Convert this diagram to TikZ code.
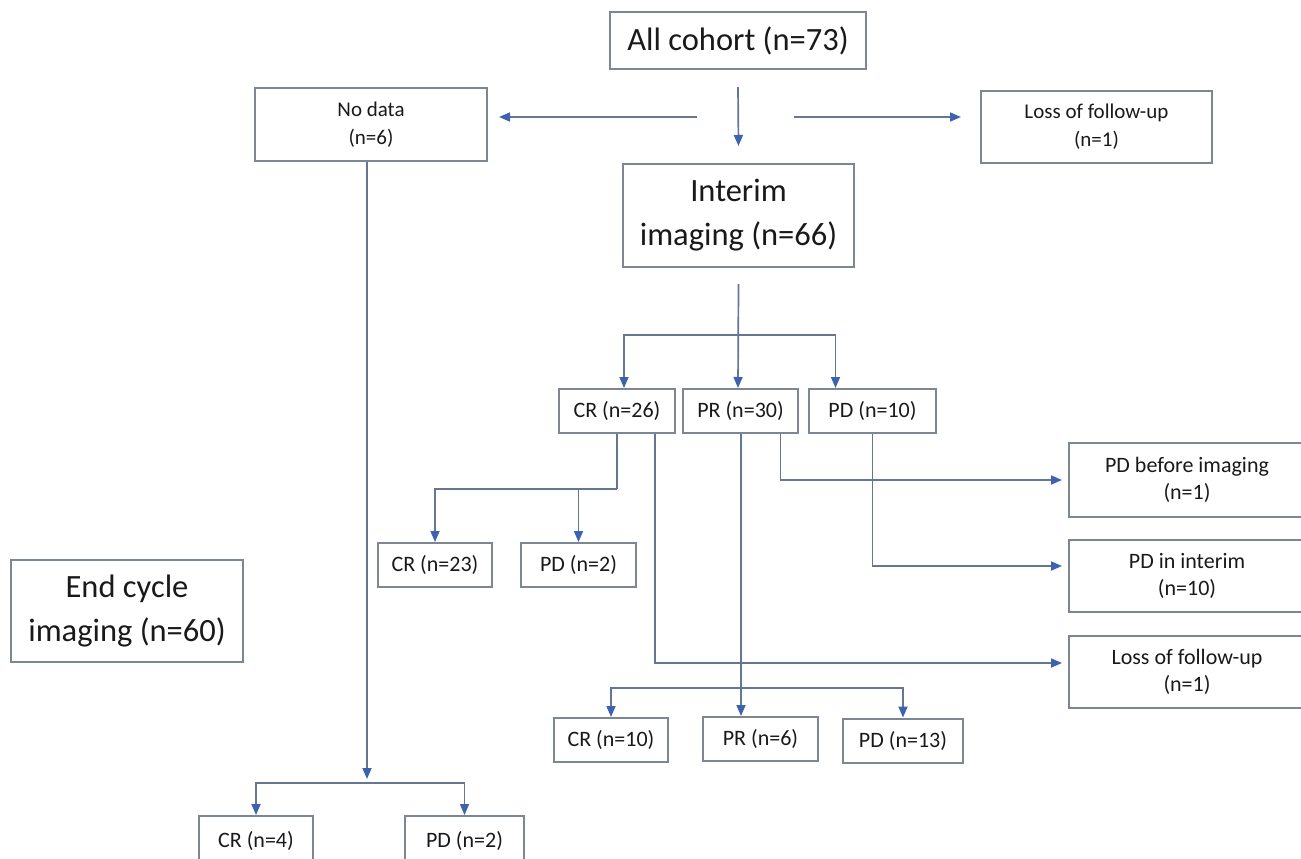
\documentclass[tikz,border=0pt]{standalone}
\usepackage{fontspec}
\setmainfont{Carlito}
\usetikzlibrary{arrows.meta}
\definecolor{boxgray}{RGB}{125,135,148}
\definecolor{linegray}{RGB}{100,118,146}
\definecolor{tipblue}{RGB}{60,98,176}
\definecolor{txtgray}{RGB}{25,25,25}
\tikzset{
	box/.style={draw=boxgray, line width=2pt, inner sep=0pt, align=center, text=txtgray, font=\fontsize{22}{27}\selectfont},
	bigbox/.style={box, font=\fontsize{32.5}{44}\selectfont},
	topbox/.style={box, font=\fontsize{21}{28}\selectfont},
	link/.style={draw=linegray, line width=1.7pt},
	arr/.style={link, -{Triangle[length=11pt,width=9pt,color=tipblue]}},
}

\begin{document}
\begin{tikzpicture}[x=1pt, y=-1pt]
		%%%%% START %%%%%
		
		\useasboundingbox (0, 0) rectangle (1301, 859);
		
		\node[bigbox, minimum width=256, minimum height=57] (all) at (738, 40.5) {All cohort (n=73)};
		\node[topbox, minimum width=232, minimum height=73] (nodata) at (371, 124.5) {No data\\(n=6)};
		\node[topbox, minimum width=231, minimum height=72] (lossA) at (1096.5, 127) {Loss of follow-up\\(n=1)};
		\node[bigbox, minimum width=231, minimum height=103] (interim) at (738.5, 215.5) {Interim\\imaging (n=66)};
		
		\node[box, minimum width=116, minimum height=44] (cr26) at (617, 411) {CR (n=26)};
		\node[box, minimum width=115, minimum height=44] (pr30) at (740.5, 411) {PR (n=30)};
		\node[box, minimum width=127, minimum height=44] (pd10) at (872.5, 411) {PD (n=10)};
		
		\node[box, minimum width=114, minimum height=44] (cr23) at (435, 565) {CR (n=23)};
		\node[box, minimum width=115, minimum height=44] (pd2a) at (578.5, 565) {PD (n=2)};
		
		\node[box, minimum width=236, minimum height=74] (pdbefore) at (1187, 480) {PD before imaging\\(n=1)};
		\node[box, minimum width=236, minimum height=72] (pdinterim) at (1187, 576) {PD in interim\\(n=10)};
		\node[box, minimum width=236, minimum height=72] (lossB) at (1187, 672) {Loss of follow-up\\(n=1)};
		
		\node[bigbox, minimum width=232, minimum height=102] (endcyc) at (127, 611) {End cycle\\imaging (n=60)};
		
		\node[box, minimum width=114, minimum height=44] (cr10) at (611, 740) {CR (n=10)};
		\node[box, minimum width=115, minimum height=44] (pr6) at (760.5, 739) {PR (n=6)};
		\node[box, minimum width=120, minimum height=44] (pd13) at (903, 740.5) {PD (n=13)};
		
		\node[box, minimum width=114, minimum height=50] (cr4) at (256, 841) {CR (n=4)};
		\node[box, minimum width=119, minimum height=50] (pd2b) at (464.5, 841) {PD (n=2)};
		
		% forks
		\coordinate (split) at (737, 117);
		\coordinate (fork1) at (738, 335);
		\coordinate (fork2) at (617, 489);
		\coordinate (fork3) at (741, 688);
		\coordinate (fork4) at (367, 783);
		
		\draw[arr] ([yshift=-17pt]all.south) -- ([yshift=17pt]interim.north);
		\draw[arr, shorten >=11pt] ([xshift=-40pt]split) -- (nodata.east |- split);
		\draw[arr, shorten >=19pt] ([xshift=57pt]split) -- (lossA.west |- split);
		
		\draw[arr] ([yshift=-16pt]interim.south) -- (pr30.north -| fork1);
		\draw[arr] (fork1) -| ([xshift=7pt]cr26.north);
		\draw[arr] (fork1) -| ([xshift=-37pt]pd10.north);
		
		\draw[link] (cr26.south) -- (fork2);
		\draw[arr] (fork2) -| (cr23.north);
		\draw[arr] (pd2a.north |- fork2) -- (pd2a.north);
		
		\draw[arr] ([xshift=38pt]cr26.south) |- ([xshift=-6pt, yshift=9pt]lossB.west);
		\draw[arr] ([xshift=40pt]pr30.south) |- ([xshift=-6pt]pdbefore.west);
		\draw[arr] (pd10.south) |- ([xshift=-6pt, yshift=10pt]pdinterim.west);
		
		\draw[arr] (pr30.south -| fork3) -- (pr6.north -| fork3);
		\draw[arr] (fork3) -| (cr10.north);
		\draw[arr] (fork3) -| (pd13.north);
		
		\draw[arr] ([xshift=-4pt]nodata.south) -- ([yshift=4pt]fork4);
		\draw[arr] (fork4) -| (cr4.north);
		\draw[arr] (fork4) -| (pd2b.north);
		
		%%%%% END %%%%%
	\end{tikzpicture}
\end{document}
